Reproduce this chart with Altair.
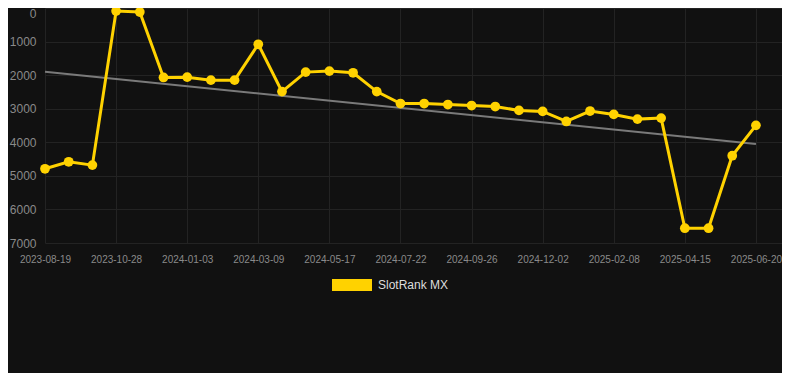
import altair as alt
import pandas as pd

dates = [
    "2023-08-19", "2023-09-11", "2023-10-04", "2023-10-28", "2023-11-19",
    "2023-12-11", "2024-01-03", "2024-01-25", "2024-02-16", "2024-03-09",
    "2024-04-01", "2024-04-24", "2024-05-17", "2024-06-08", "2024-06-30",
    "2024-07-22", "2024-08-13", "2024-09-04", "2024-09-26", "2024-10-18",
    "2024-11-09", "2024-12-02", "2024-12-24", "2025-01-16", "2025-02-08",
    "2025-03-02", "2025-03-24", "2025-04-15", "2025-05-07", "2025-05-29",
    "2025-06-20",
]
ranks = [
    4790, 4580, 4680, 90, 120, 2070, 2060, 2150, 2150, 1080,
    2490, 1910, 1880, 1930, 2490, 2845, 2845, 2875, 2905, 2935,
    3050, 3080, 3380, 3070, 3170, 3310, 3280, 6560, 6560, 4400,
    3495,
]
series_name = "SlotRank MX"
y_ticks = [0, 1000, 2000, 3000, 4000, 5000, 6000, 7000]

df = pd.DataFrame({
    "idx": list(range(len(dates))),
    "date": dates,
    "rank": ranks,
    "series": [series_name] * len(dates),
})

label_idx = list(range(0, len(dates), 3))
label_expr = "[" + ",".join("'" + d + "'" for d in dates) + "][datum.value]"

BG = "#111111"
GOLD = "#FFD200"
GRID = "#232323"
LABEL = "#8a8a8a"

x_enc = alt.X(
    "idx:Q",
    scale=alt.Scale(domain=[0, 31.1], nice=False, zero=False),
    axis=alt.Axis(
        values=label_idx, labelExpr=label_expr, title=None, ticks=False,
        domain=False, grid=True, gridColor=GRID, labelColor=LABEL,
        labelFontSize=10, labelPadding=11, labelFont="Liberation Sans",
        labelOverlap=False, labelFlush=False,
    ),
)
y_enc = alt.Y(
    "rank:Q",
    scale=alt.Scale(domain=[0, 7000], reverse=True, nice=False),
    axis=alt.Axis(
        values=y_ticks, format="d", title=None, ticks=False, domain=False,
        grid=True, gridColor=GRID, labelColor=LABEL, labelFontSize=12,
        labelPadding=9, labelFont="Liberation Sans", labelOverlap=False,
        labelFlush=False,
        labelBaseline={"condition": {"test": "datum.value == 0", "value": "top"},
                       "value": "middle"},
    ),
)

color_enc = alt.Color(
    "series:N",
    scale=alt.Scale(domain=[series_name], range=[GOLD]),
    legend=alt.Legend(
        title=None, orient="none", legendX=287, legendY=257,
        direction="horizontal",
        symbolType="M-1,-0.3L1,-0.3L1,0.3L-1,0.3Z", symbolSize=1600,
        symbolStrokeWidth=0, symbolFillColor=GOLD, symbolOpacity=1,
        labelColor="#dddddd", labelFontSize=12, labelFont="Liberation Sans",
        labelOffset=6,
    ),
)

base = alt.Chart(df)

trend = base.transform_regression("idx", "rank").mark_line(
    color="#7a7a7a", strokeWidth=2
).encode(x=x_enc, y=y_enc)

line = base.mark_line(strokeWidth=3).encode(x=x_enc, y=y_enc, color=color_enc)
points = base.mark_circle(size=95, opacity=1).encode(x=x_enc, y=y_enc, color=color_enc)

chart = alt.layer(trend, line, points).properties(
    width=737,
    height=235,
    background=BG,
    padding={"left": 37, "top": 0, "right": 0, "bottom": 130},
    autosize=alt.AutoSizeParams(type="none"),
).configure_view(stroke=None)

chart.save("out.html", embed_options={"renderer": "svg", "actions": False})
